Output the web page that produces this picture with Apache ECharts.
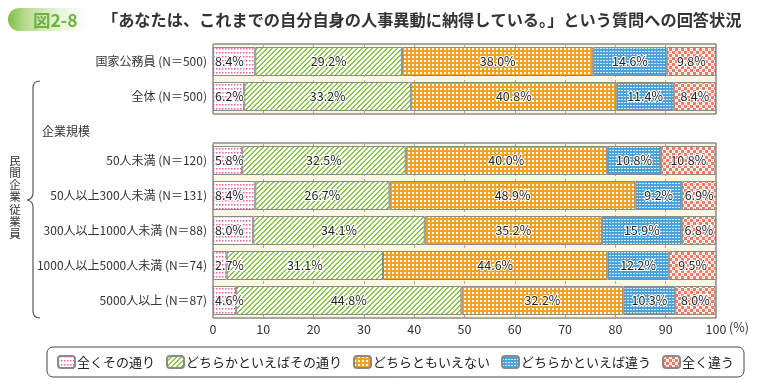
<!DOCTYPE html>
<html><head><meta charset="utf-8">
<script src="https://cdn.jsdelivr.net/npm/echarts@6/dist/echarts.min.js"></script>
<style>html,body{margin:0;padding:0;background:#fff}#c{width:760px;height:385px}</style>
</head><body><div id="c"></div>
<script>
// ---- data ----
const titleNo = '図2-8';
const titleText = '「あなたは、これまでの自分自身の人事異動に納得している。」という質問への回答状況';
const categoriesTop = ['国家公務員 (N＝500)', '全体 (N＝500)'];
const categoriesBottom = ['50人未満 (N＝120)', '50人以上300人未満 (N＝131)', '300人以上1000人未満 (N＝88)', '1000人以上5000人未満 (N＝74)', '5000人以上 (N＝87)'];
const seriesNames = ['全くその通り', 'どちらかといえばその通り', 'どちらともいえない', 'どちらかといえば違う', '全く違う'];
const zenkuSonoTori = [8.4, 6.2, 5.8, 8.4, 8.0, 2.7, 4.6];
const dochiraSonoTori = [29.2, 33.2, 32.5, 26.7, 34.1, 31.1, 44.8];
const dochiraTomo = [38.0, 40.8, 40.0, 48.9, 35.2, 44.6, 32.2];
const dochiraChigau = [14.6, 11.4, 10.8, 9.2, 15.9, 12.2, 10.3];
const zenkuChigau = [9.8, 8.4, 10.8, 6.9, 6.8, 9.5, 8.0];
const xTicks = [0, 10, 20, 30, 40, 50, 60, 70, 80, 90, 100];
const groupLabel = '企業規模';
const braceLabel = '民間企業従業員';

// ---- patterns ----
function pat(w, h, draw) {
  const c = document.createElement('canvas'); c.width = w; c.height = h;
  const ctx = c.getContext('2d'); draw(ctx); return { image: c, repeat: 'repeat' };
}
const patterns = [
  pat(3, 4, ctx => { ctx.fillStyle = '#fff'; ctx.fillRect(0,0,3,4); ctx.fillStyle = '#ee5f9e'; ctx.fillRect(0,0,1.5,1.5); }),
  pat(5, 5, ctx => { ctx.fillStyle = '#fff'; ctx.fillRect(0,0,5,5); ctx.fillStyle = '#8cc850';
    for (let i = 0; i < 5; i++) { ctx.fillRect(4 - i, i, 1, 1); ctx.fillRect((5 - i) % 5, i, 1, 1); } }),
  pat(4, 4, ctx => { ctx.fillStyle = '#f5a11c'; ctx.fillRect(0,0,4,4); ctx.fillStyle = '#fff'; ctx.fillRect(0,0,2,2); }),
  pat(3, 3, ctx => { ctx.fillStyle = '#4aa2dc'; ctx.fillRect(0,0,3,3); ctx.fillStyle = '#d8ecf8'; ctx.fillRect(0,0,2,1); }),
  pat(6, 6, ctx => { ctx.fillStyle = '#f27a62'; ctx.fillRect(0,0,6,6); ctx.fillStyle = '#fff'; ctx.fillRect(0,0,3,3); ctx.fillRect(3,3,3,3); ctx.fillStyle='#f9b7a8'; ctx.fillRect(1,1,1,1); ctx.fillRect(4,4,1,1);})
];
const allValues = [zenkuSonoTori, dochiraSonoTori, dochiraTomo, dochiraChigau, zenkuChigau];

const FONT = '"Noto Sans CJK JP", "Noto Sans", sans-serif';
const chart = echarts.init(document.getElementById('c'), null, { renderer: 'canvas' });

function makeSeries(gi, from, to) {
  return allValues.map((vals, si) => ({
    name: seriesNames[si], type: 'bar', stack: 's' + gi,
    xAxisIndex: gi, yAxisIndex: gi, barWidth: 29,
    data: vals.slice(from, to),
    itemStyle: { color: patterns[si], borderColor: '#8a8a8a', borderWidth: 1 },
    label: {
      show: true, position: si === 0 ? 'insideLeft' : 'inside', distance: 2,
      formatter: p => p.value.toFixed(1) + '%',
      fontFamily: FONT, fontSize: 12.5, color: '#222',
      textBorderColor: '#fff', textBorderWidth: 2
    },
    emphasis: { disabled: true }, animation: false
  }));
}

const xAxisBase = {
  type: 'value', min: 0, max: 100, interval: 10,
  axisLine: { show: false },
  axisTick: { show: true, inside: true, length: 3, lineStyle: { color: '#a89f86' } },
  splitLine: { show: true, lineStyle: { color: '#b3aa90', type: [3, 3] } }
};
const yAxisBase = {
  type: 'category', inverse: true,
  axisLine: { show: false }, axisTick: { show: false },
  axisLabel: { fontFamily: FONT, fontSize: 12, color: '#333', margin: 6 }
};
const braceStyle = { stroke: '#555', lineWidth: 1.2, fill: null };

chart.setOption({
  animation: false,
  grid: [
    { left: 213, right: 44, top: 44, height: 70, show: true, backgroundColor: '#fdf8e3', borderColor: '#555', borderWidth: 1 },
    { left: 213, right: 44, top: 143, height: 175, show: true, backgroundColor: '#fdf8e3', borderColor: '#555', borderWidth: 1 }
  ],
  xAxis: [
    Object.assign({}, xAxisBase, { gridIndex: 0, axisLabel: { show: false } }),
    Object.assign({}, xAxisBase, { gridIndex: 1, axisLabel: { show: true, fontFamily: FONT, fontSize: 12.5, color: '#333', margin: 5,
      formatter: v => xTicks.includes(v) ? String(v) : '' } })
  ],
  yAxis: [
    Object.assign({}, yAxisBase, { gridIndex: 0, data: categoriesTop }),
    Object.assign({}, yAxisBase, { gridIndex: 1, data: categoriesBottom })
  ],
  legend: {
    data: seriesNames, left: 47, top: 347,
    padding: [8, 10], itemGap: 11, itemWidth: 17, itemHeight: 12,
    borderColor: '#444', borderWidth: 1, borderRadius: 6,
    textStyle: { fontFamily: FONT, fontSize: 13, color: '#222', padding: [0, 0, 0, -3] },
    selectedMode: false
  },
  series: [...makeSeries(0, 0, 2), ...makeSeries(1, 2, 7)],
  graphic: [
    { type: 'rect', shape: { x: 8, y: 8, width: 82, height: 23, r: [12, 0, 0, 12] },
      style: { fill: new echarts.graphic.LinearGradient(0, 0, 1, 0, [
        { offset: 0, color: '#7fbf45' }, { offset: 0.22, color: '#b9dc93' }, { offset: 0.6, color: '#e6f3d8' }, { offset: 1, color: '#ffffff' }]) } },
    { type: 'text', x: 33, y: 20, style: { text: titleNo, font: 'bold 17.5px ' + FONT, fill: '#6cb33e', verticalAlign: 'middle' } },
    { type: 'text', x: 102, y: 20, style: { text: titleText, font: 'bold 16.2px ' + FONT, fill: '#333', verticalAlign: 'middle' } },
    { type: 'text', x: 729, y: 327, style: { text: '(%)', font: '12.5px ' + FONT, fill: '#333', verticalAlign: 'middle' } },
    { type: 'text', x: 42, y: 131, style: { text: groupLabel, font: '12px ' + FONT, fill: '#333', verticalAlign: 'middle' } },
    { type: 'text', x: 15, y: 197, style: { text: braceLabel.split('').join('\n'), font: '11.5px ' + FONT, lineHeight: 12.2, fill: '#333', align: 'center', verticalAlign: 'middle' } },
    { type: 'bezierCurve', shape: { x1: 40, y1: 81, cpx1: 33, cpy1: 81, x2: 33, y2: 88 }, style: braceStyle },
    { type: 'line', shape: { x1: 33, y1: 88, x2: 33, y2: 193 }, style: braceStyle },
    { type: 'bezierCurve', shape: { x1: 33, y1: 193, cpx1: 33, cpy1: 199, x2: 27, y2: 200 }, style: braceStyle },
    { type: 'bezierCurve', shape: { x1: 27, y1: 200, cpx1: 33, cpy1: 201, x2: 33, y2: 207 }, style: braceStyle },
    { type: 'line', shape: { x1: 33, y1: 207, x2: 33, y2: 311 }, style: braceStyle },
    { type: 'bezierCurve', shape: { x1: 33, y1: 311, cpx1: 33, cpy1: 318, x2: 40, y2: 318 }, style: braceStyle }
  ]
});
</script></body></html>
